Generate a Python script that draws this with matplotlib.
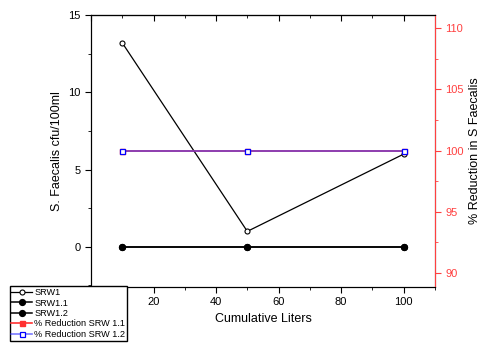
import matplotlib.pyplot as plt
from matplotlib.ticker import MultipleLocator

plt.rcParams['font.family'] = ['Liberation Sans', 'DejaVu Sans']

liters = [10, 50, 100]
srw1 = [13.2, 1.0, 6.0]
srw1_1 = [0, 0, 0]
srw1_2 = [0, 0, 0]
red_1_1 = [100, 100, 100]
red_1_2 = [100, 100, 100]

fig = plt.figure(figsize=(4.83, 3.46), dpi=100)
ax = fig.add_axes([0.1884, 0.1705, 0.712, 0.786])
ax2 = ax.twinx()

l1, = ax.plot(liters, srw1, color='black', lw=0.9, marker='o', ms=3.6,
              mfc='white', mec='black', mew=0.8, label='SRW1')
l2, = ax.plot(liters, srw1_1, color='black', lw=1.1, marker='o', ms=4.2,
              mfc='black', label='SRW1.1')
l3, = ax.plot(liters, srw1_2, color='black', lw=1.1, marker='o', ms=4.2,
              mfc='black', label='SRW1.2')
l4, = ax2.plot(liters, red_1_1, color='#ff3030', lw=1.2, marker='s', ms=3.6,
               mfc='#ff3030', mec='#ff3030', label='% Reduction SRW 1.1')
l5, = ax2.plot(liters, red_1_2, color=(0.2, 0.2, 1.0, 0.65), lw=1.2, marker='s',
               ms=3.6, mfc='white', mec='blue', mew=0.9,
               label='% Reduction SRW 1.2')

ax.set_xlim(0, 110)
ax.set_ylim(-2.6, 15)
ax2.set_ylim(88.86, 111.06)

ax.xaxis.set_major_locator(MultipleLocator(20))
ax.xaxis.set_minor_locator(MultipleLocator(10))
ax.yaxis.set_major_locator(MultipleLocator(5))
ax.yaxis.set_minor_locator(MultipleLocator(2.5))
ax2.yaxis.set_major_locator(MultipleLocator(5))
ax2.yaxis.set_minor_locator(MultipleLocator(2.5))

ax.tick_params(axis='both', which='both', direction='out', labelsize=8,
               colors='black')
ax.tick_params(which='major', length=4)
ax.tick_params(which='minor', length=2.5)
ax2.tick_params(axis='y', which='both', colors='#ff4040', labelsize=8,
                direction='out')
ax2.tick_params(which='major', length=4)
ax2.tick_params(which='minor', length=2.5)
ax2.spines['right'].set_color('#ff4040')

# top ticks point inward
top = ax.secondary_xaxis('top')
top.xaxis.set_major_locator(MultipleLocator(20))
top.xaxis.set_minor_locator(MultipleLocator(10))
top.tick_params(which='both', direction='in', labeltop=False)
top.tick_params(which='major', length=4)
top.tick_params(which='minor', length=2.5)

ax.set_xlabel('Cumulative Liters', fontsize=9)
ax.set_ylabel('S. Faecalis cfu/100ml', fontsize=9)
ax2.set_ylabel('% Reduction in S Faecalis', fontsize=9)

fig.legend(handles=[l1, l2, l3, l4, l5], loc='upper left',
           bbox_to_anchor=(0.02, 0.172), fontsize=6.6, frameon=True,
           fancybox=False, edgecolor='black', framealpha=1,
           handlelength=2.2, handletextpad=0.3, borderpad=0.2,
           labelspacing=0.15, borderaxespad=0)

fig.savefig('out.png', dpi=100)
